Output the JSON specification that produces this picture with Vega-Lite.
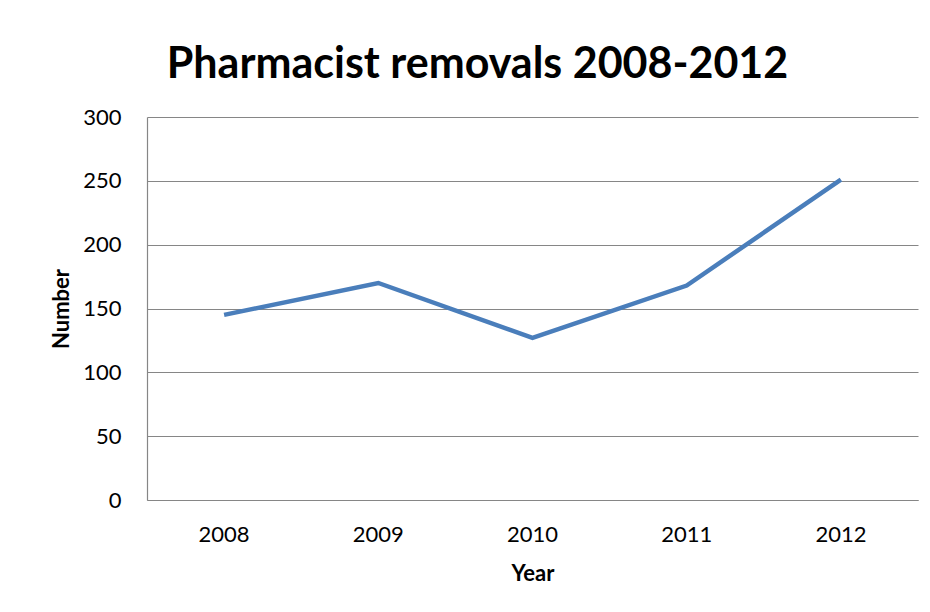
{
  "$schema": "https://vega.github.io/schema/vega-lite/v6.json",
  "autosize": "none",
  "width": 771,
  "height": 383,
  "padding": {"left": 147, "top": 117, "right": 12, "bottom": 112},
  "background": "white",
  "title": {
    "text": "Pharmacist removals 2008-2012",
    "font": "Lato",
    "fontSize": 43,
    "fontWeight": "bold",
    "color": "#000000",
    "anchor": "middle",
    "baseline": "alphabetic",
    "dx": -55,
    "offset": -15
  },
  "data": {
    "values": [
      {"Year": "2008", "Number": 145},
      {"Year": "2009", "Number": 170},
      {"Year": "2010", "Number": 127},
      {"Year": "2011", "Number": 168},
      {"Year": "2012", "Number": 251}
    ]
  },
  "mark": {"type": "line", "color": "#4a7ebb", "strokeWidth": 4.5},
  "encoding": {
    "x": {
      "field": "Year",
      "type": "ordinal",
      "scale": {"type": "band", "paddingInner": 0, "paddingOuter": 0},
      "axis": {
        "title": "Year",
        "labelAngle": 0,
        "ticks": false,
        "labelPadding": 24,
        "labelFont": "Lato",
        "labelFontSize": 22,
        "labelColor": "#000000",
        "titleFont": "Lato",
        "titleFontSize": 22,
        "titleFontWeight": "bold",
        "titleColor": "#000000",
        "titlePadding": 18,
        "domainColor": "#868686",
        "domainWidth": 1.2
      }
    },
    "y": {
      "field": "Number",
      "type": "quantitative",
      "scale": {"domain": [0, 300]},
      "axis": {
        "title": "Number",
        "values": [0, 50, 100, 150, 200, 250, 300],
        "ticks": false,
        "labelPadding": 26,
        "labelFont": "Lato",
        "labelFontSize": 22,
        "labelColor": "#000000",
        "titleFont": "Lato",
        "titleFontSize": 22,
        "titleFontWeight": "bold",
        "titleColor": "#000000",
        "titlePadding": 9,
        "domainColor": "#868686",
        "domainWidth": 1.2,
        "gridColor": "#868686",
        "gridWidth": 1.2
      }
    }
  },
  "config": {"view": {"stroke": null}}
}
